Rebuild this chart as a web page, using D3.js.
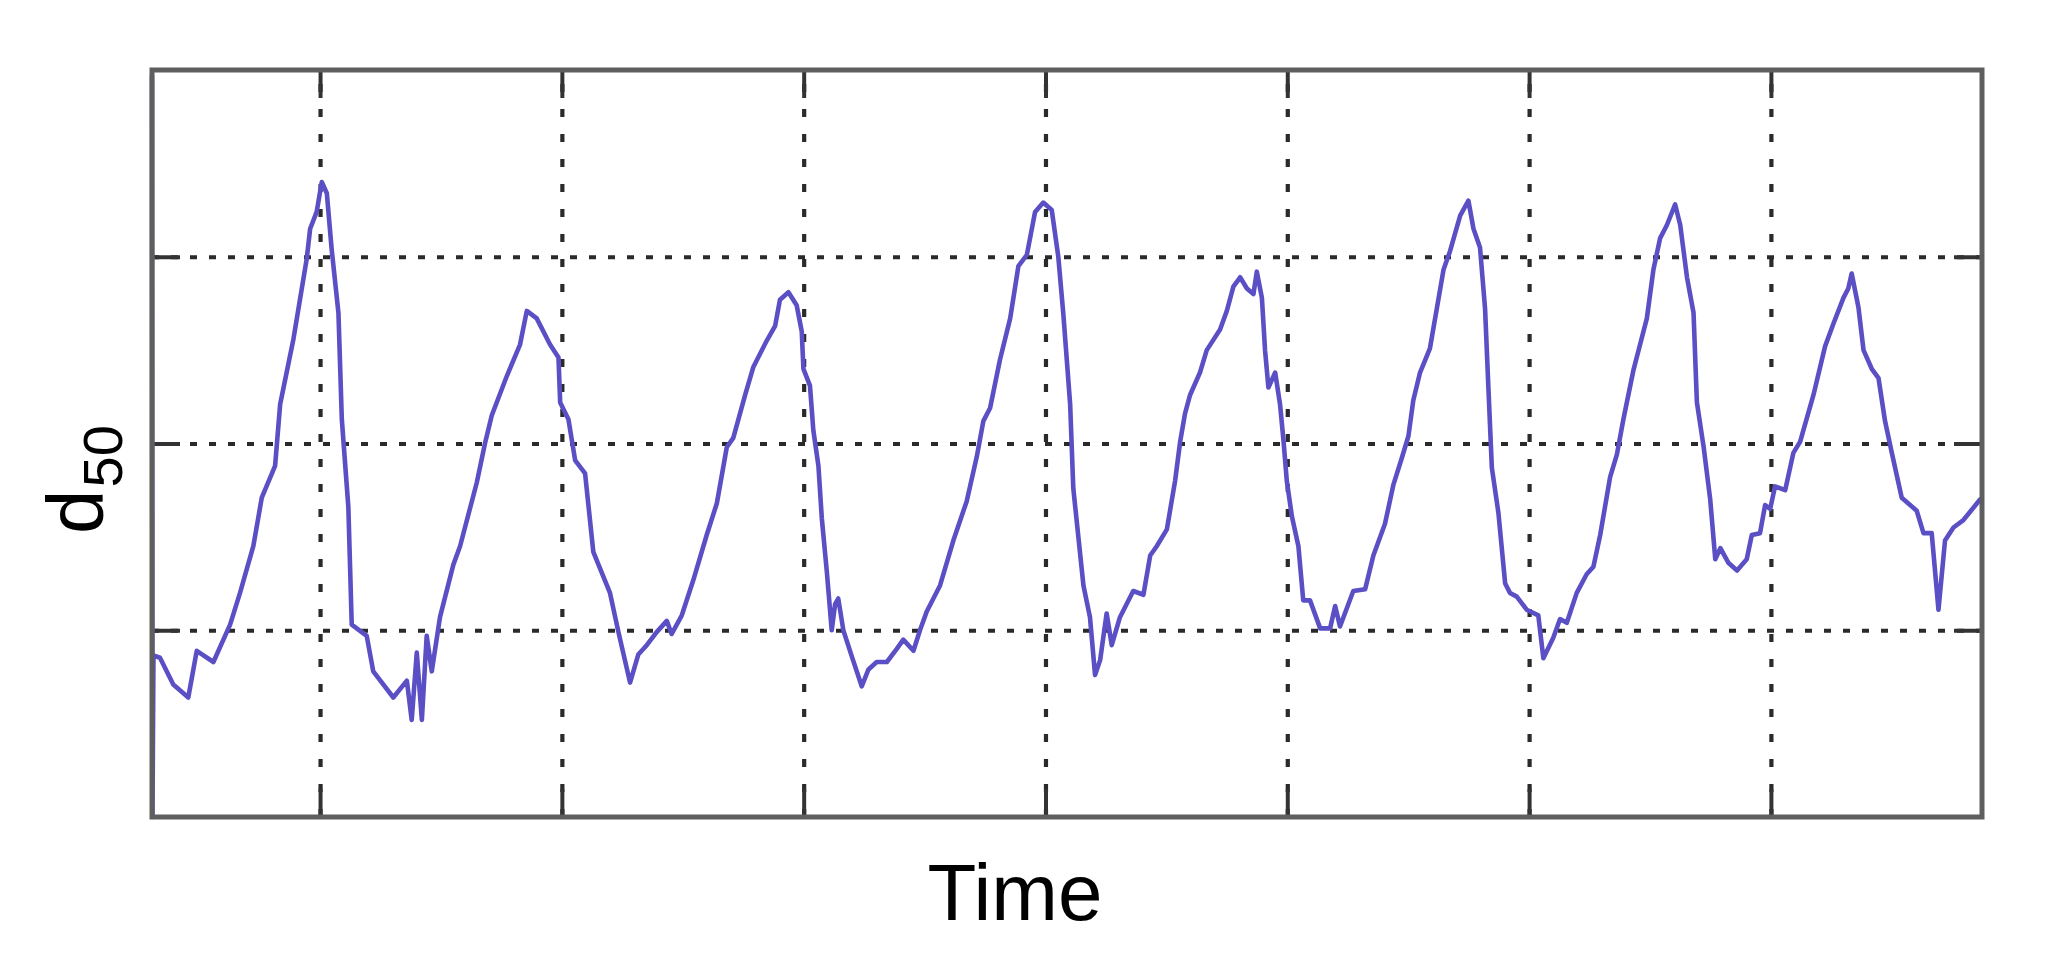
<!DOCTYPE html>
<html>
<head>
<meta charset="utf-8">
<script src="https://cdn.jsdelivr.net/npm/d3@7"></script>
<style>
  html, body { margin: 0; padding: 0; background: #fff; }
  svg { display: block; }
</style>
</head>
<body>
<svg id="chart" width="2046" height="968"></svg>
<script>
// ---- data (time in grid units, d50 in grid units) ----
const xTicks = [1, 2, 3, 4, 5, 6, 7];
const yTicks = [1, 2, 3];
const xLabel = "Time";
const yLabelMain = "d";
const yLabelSub = "50";

const time = [
  0.305,0.307,0.311,0.338,0.393,0.455,0.490,0.559,0.628,0.669,
  0.724,0.759,0.814,0.835,0.890,0.945,0.959,0.986,1.007,1.028,
  1.048,1.076,1.090,1.117,1.131,1.193,1.220,1.303,1.359,1.379,
  1.400,1.421,1.441,1.462,1.496,1.551,
  1.579,1.648,1.682,1.710,1.772,1.827,1.855,1.896,1.951,1.986,
  1.993,2.027,2.055,2.096,2.130,2.199,2.234,2.282,2.316,2.351,
  2.392,2.434,2.454,2.496,2.544,2.599,2.641,2.682,2.709,2.758,
  2.792,2.847,2.882,2.902,
  2.937,2.971,2.992,2.999,3.026,3.040,3.061,3.075,3.096,3.116,
  3.130,3.143,3.164,3.199,3.240,3.268,3.302,3.344,3.385,3.412,
  3.454,3.481,3.509,3.564,3.619,3.674,3.716,3.743,3.771,3.812,
  3.854,3.888,3.923,3.957,3.991,4.026,4.053,4.074,4.102,4.115,
  4.157,4.184,4.205,4.226,
  4.253,4.274,4.308,4.363,4.405,4.433,4.460,4.502,4.536,4.557,
  4.577,4.598,4.639,4.667,4.722,4.750,4.777,4.805,4.833,4.860,
  4.874,4.895,4.908,4.922,4.950,4.970,4.984,4.998,5.019,5.046,
  5.066,5.094,5.136,5.177,5.198,5.218,5.273,5.322,5.356,5.404,
  5.439,5.473,5.501,5.521,5.549,
  5.590,5.618,5.646,5.673,5.715,5.749,5.770,5.797,5.818,5.832,
  5.846,5.873,5.901,5.921,5.949,5.990,6.038,6.059,6.100,6.128,
  6.156,6.197,6.238,6.266,6.294,6.335,6.363,6.390,6.431,6.459,
  6.487,6.514,6.542,6.570,6.604,6.625,6.653,6.680,6.694,6.722,
  6.749,6.770,6.791,6.825,6.860,
  6.900,6.921,6.955,6.976,6.997,7.017,7.059,7.093,7.121,7.176,
  7.224,7.258,7.300,7.320,7.334,7.362,7.383,7.417,7.445,7.472,
  7.500,7.541,7.603,7.631,7.665,7.693,7.720,7.755,7.796,7.865
];

const d50 = [
  3.97,0.00,0.865,0.853,0.71,0.64,0.89,0.83,1.03,1.20,
  1.45,1.71,1.88,2.21,2.56,2.99,3.15,3.24,3.40,3.34,
  3.04,2.70,2.13,1.66,1.03,0.97,0.78,0.64,0.73,0.52,
  0.88,0.52,0.97,0.78,1.07,1.35,
  1.45,1.79,2.00,2.15,2.36,2.53,2.71,2.67,2.53,2.46,
  2.22,2.13,1.91,1.84,1.42,1.20,0.99,0.72,0.87,0.92,
  0.99,1.05,0.98,1.08,1.27,1.51,1.68,1.98,2.03,2.26,
  2.41,2.55,2.63,2.77,
  2.81,2.74,2.60,2.40,2.31,2.07,1.88,1.60,1.31,1.00,
  1.14,1.17,1.00,0.86,0.70,0.79,0.83,0.83,0.90,0.95,
  0.89,1.00,1.10,1.24,1.48,1.69,1.93,2.12,2.19,2.45,
  2.67,2.95,3.01,3.24,3.29,3.25,3.00,2.69,2.21,1.76,
  1.24,1.07,0.76,0.84,
  1.09,0.92,1.07,1.21,1.19,1.40,1.45,1.54,1.80,2.01,
  2.16,2.26,2.38,2.50,2.61,2.71,2.84,2.89,2.83,2.80,
  2.92,2.78,2.50,2.30,2.38,2.21,2.02,1.80,1.61,1.45,
  1.16,1.16,1.01,1.01,1.13,1.02,1.21,1.22,1.40,1.57,
  1.78,1.92,2.04,2.23,2.38,
  2.51,2.72,2.93,3.03,3.22,3.30,3.15,3.05,2.72,2.29,
  1.87,1.63,1.25,1.20,1.18,1.11,1.08,0.85,0.96,1.06,
  1.04,1.20,1.30,1.34,1.51,1.82,1.94,2.13,2.39,2.53,
  2.67,2.93,3.10,3.17,3.28,3.17,2.89,2.70,2.22,1.98,
  1.70,1.38,1.44,1.36,1.32,
  1.38,1.51,1.52,1.67,1.65,1.77,1.75,1.95,2.01,2.26,
  2.52,2.64,2.78,2.83,2.91,2.73,2.50,2.40,2.35,2.12,
  1.95,1.71,1.64,1.52,1.52,1.11,1.48,1.55,1.59,1.70
];

const xDomain = [0.305, 7.873];
const yDomain = [0, 4];

// ---- layout ----
const svg = d3.select("#chart");
const margin = { left: 152, top: 70, right: 2046 - 1982, bottom: 968 - 817 };
const W = 2046 - margin.left - margin.right;
const H = 968 - margin.top - margin.bottom;

const x = d3.scaleLinear().domain(xDomain).range([0, W]);
const y = d3.scaleLinear().domain(yDomain).range([H, 0]);

const g = svg.append("g").attr("transform", `translate(${margin.left},${margin.top})`);

// dotted grid lines
const gridX = g.append("g")
  .attr("transform", `translate(0,${H})`)
  .call(d3.axisBottom(x).tickValues(xTicks).tickSize(-H).tickFormat(""));
gridX.select(".domain").remove();
gridX.selectAll("line")
  .attr("stroke", "#2a2a2a").attr("stroke-width", 4.2)
  .attr("stroke-dasharray", "8,17");

const gridY = g.append("g")
  .call(d3.axisLeft(y).tickValues(yTicks).tickSize(-W).tickFormat(""));
gridY.select(".domain").remove();
gridY.selectAll("line")
  .attr("stroke", "#2a2a2a").attr("stroke-width", 4.2)
  .attr("stroke-dasharray", "7,12");

// inward tick marks on all four sides
const tickLen = 28;
function styleTicks(sel) {
  sel.select(".domain").remove();
  sel.selectAll("line").attr("stroke", "#333").attr("stroke-width", 4);
}
g.append("g").attr("transform", `translate(0,${H})`)
  .call(d3.axisBottom(x).tickValues(xTicks).tickSize(-tickLen).tickFormat("")).call(styleTicks);
g.append("g")
  .call(d3.axisTop(x).tickValues(xTicks).tickSize(-tickLen).tickFormat("")).call(styleTicks);
g.append("g")
  .call(d3.axisLeft(y).tickValues(yTicks).tickSize(-tickLen).tickFormat("")).call(styleTicks);
g.append("g").attr("transform", `translate(${W},0)`)
  .call(d3.axisRight(y).tickValues(yTicks).tickSize(-tickLen).tickFormat("")).call(styleTicks);

// data line
const pts = d3.zip(time, d50);
const line = d3.line().x(d => x(d[0])).y(d => y(d[1]));
g.append("path")
  .datum(pts)
  .attr("fill", "none")
  .attr("stroke", "#5a4fc4")
  .attr("stroke-width", 4.6)
  .attr("stroke-linejoin", "round")
  .attr("stroke-linecap", "round")
  .attr("d", line);

// frame
g.append("rect")
  .attr("x", 0).attr("y", 0).attr("width", W).attr("height", H)
  .attr("fill", "none").attr("stroke", "#5e5e5e").attr("stroke-width", 5);

// axis labels
svg.append("text")
  .attr("x", 1015).attr("y", 920)
  .attr("text-anchor", "middle")
  .attr("font-family", "'Liberation Sans', Arial, Helvetica, sans-serif")
  .attr("font-size", 80)
  .attr("fill", "#000")
  .text(xLabel);

const yl = svg.append("text")
  .attr("transform", "translate(103,534) rotate(-90)")
  .attr("text-anchor", "start")
  .attr("font-family", "'Liberation Sans', Arial, Helvetica, sans-serif")
  .attr("fill", "#000");
yl.append("tspan").attr("font-size", 80).text(yLabelMain);
yl.append("tspan").attr("font-size", 56).attr("dy", 19).attr("dx", 2).text(yLabelSub);
</script>
</body>
</html>
